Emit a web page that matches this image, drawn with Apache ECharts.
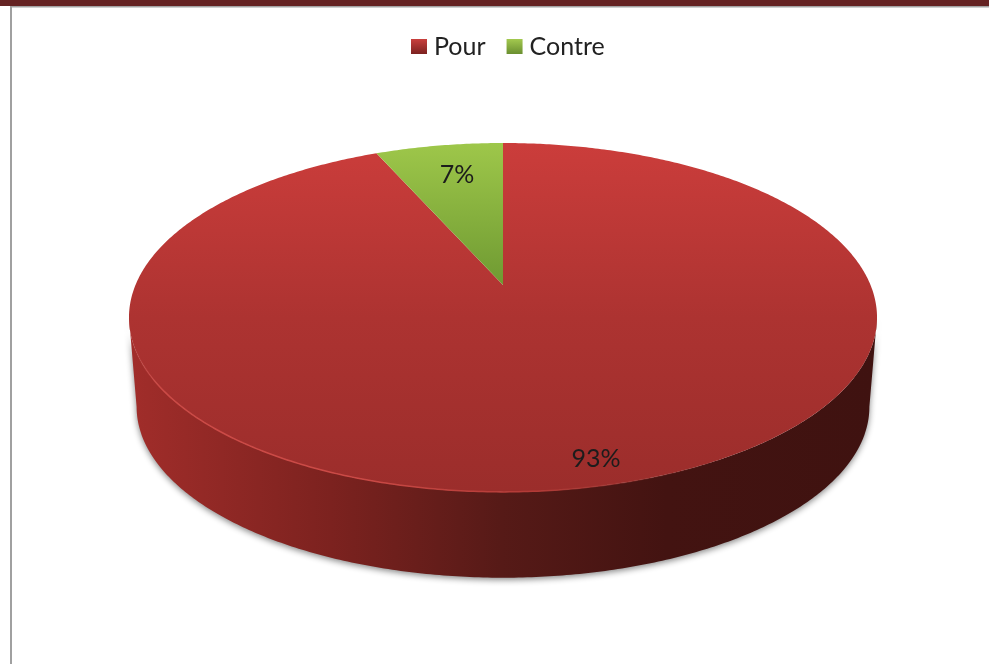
<!DOCTYPE html>
<html><head><meta charset="utf-8">
<style>html,body{margin:0;padding:0;background:#fff}#c{width:989px;height:664px}</style>
<script src="https://cdn.jsdelivr.net/npm/echarts@6/dist/echarts.min.js"></script>
</head><body><div id="c"></div>
<script>
const categories = ['Pour', 'Contre'];
const values = [93.4, 6.6];

const total = values.reduce((a, b) => a + b, 0);
const CX = 503, K = 0.186;
const TOP = { cy: 285, a: 367.5, b: 168.4 };
const BASE = { cy: 375, a: 360, b: 165 };
const labelRadius = [0.885, 0.77];
const labelFraction = [0.494, 0.55];
const topFill = [
  { stops: [['#cb3d3b', 0], ['#ad3331', 0.5], ['#9b2d2b', 1]], y0: 143, y1: 492 },
  { stops: [['#9ec74a', 0], ['#6f9a32', 1]], y0: 143, y1: 285 }
];
const legendStops = [['#c9403d', '#7c2220'], ['#a3c94f', '#6a8f30']];

function project(g, theta, r) {
  const u = r * Math.sin(theta), v = -r * Math.cos(theta), w = 1 - K * v;
  return [CX + g.a * u / w, g.cy + g.b * v / w];
}
function arc(g, t0, t1) {
  const n = Math.max(2, Math.ceil(Math.abs(t1 - t0) / 0.01)), pts = [];
  for (let i = 0; i <= n; i++) pts.push(project(g, t0 + (t1 - t0) * i / n, 1));
  return pts;
}
function grad(x, y, x2, y2, stops) {
  return { type: 'linear', global: true, x, y, x2, y2,
    colorStops: stops.map(s => ({ offset: s[1], color: s[0] })) };
}
function renderSlice(params) {
  const idx = params.seriesIndex;
  let before = 0;
  for (let i = 0; i < idx; i++) before += values[i];
  const t0 = before / total * 2 * Math.PI;
  const t1 = (before + values[idx]) / total * 2 * Math.PI;
  const children = [];
  // near side of the cylinder: from right tangent to left tangent through the front
  const nearStart = Math.max(t0, Math.PI - Math.acos(K)), nearEnd = Math.min(t1, Math.PI + Math.acos(K));
  if (nearEnd > nearStart) {
    const upper = arc(TOP, nearStart, nearEnd);
    const lower = arc(BASE, nearStart, nearEnd).reverse();
    children.push({
      type: 'polygon', silent: true,
      shape: { points: upper.concat(lower) },
      style: {
        fill: grad(130, 0, 875, 0, [['#a12d2a', 0], ['#7c221f', 0.27], ['#561a17', 0.5], ['#431311', 0.72], ['#3f1210', 1]]),
        shadowBlur: 6, shadowColor: 'rgba(70,70,70,0.65)', shadowOffsetX: 0, shadowOffsetY: 2
      }
    });
  }
  const s = topFill[idx];
  const pts = [[CX, TOP.cy]].concat(arc(TOP, t0, t1));
  children.push({
    type: 'polygon', silent: true,
    shape: { points: pts },
    style: { fill: grad(0, s.y0, 0, s.y1, s.stops) }
  });
  if (nearEnd > nearStart) {
    children.push({
      type: 'polyline', silent: true,
      shape: { points: arc(TOP, nearStart, nearEnd) },
      style: {
        fill: 'none', lineWidth: 1.5,
        stroke: grad(130, 0, 875, 0, [['rgba(205,70,66,0)', 0], ['#cb4a46', 0.04], ['#cb4a46', 0.3], ['#b23a36', 0.55], ['rgba(150,50,46,0)', 0.8], ['rgba(150,50,46,0)', 1]])
      }
    });
  }
  const p = project(TOP, t0 + (t1 - t0) * labelFraction[idx], labelRadius[idx]);
  children.push({
    type: 'text', silent: true,
    style: {
      text: Math.round(values[idx] / total * 100) + '%',
      x: p[0], y: p[1] + 2, align: 'center', verticalAlign: 'middle',
      font: '25px Lato, "Open Sans", sans-serif', fill: '#1c1c1c'
    }
  });
  return { type: 'group', children };
}

const chart = echarts.init(document.getElementById('c'), null, { renderer: 'canvas' });
chart.setOption({
  animation: false,
  backgroundColor: '#fff',
  legend: {
    top: 29, left: 406, itemWidth: 16, itemHeight: 15, itemGap: 21, icon: 'rect',
    selectedMode: false,
    textStyle: { fontFamily: 'Lato', fontSize: 25, color: '#222', padding: [0, 0, 0, 2] },
    data: categories.map((name, i) => ({
      name,
      itemStyle: { color: new echarts.graphic.LinearGradient(0, 0, 0, 1, [
        { offset: 0, color: legendStops[i][0] }, { offset: 1, color: legendStops[i][1] }]) }
    }))
  },
  graphic: [
    { type: 'rect', silent: true, shape: { x: 0, y: 0, width: 989, height: 6 }, style: { fill: '#652323' } },
    { type: 'rect', silent: true, shape: { x: 10, y: 6, width: 979, height: 1.5 }, style: { fill: '#a3a3a3' } },
    { type: 'rect', silent: true, shape: { x: 10, y: 6, width: 2, height: 658 }, style: { fill: '#a0a0a0' } }
  ],
  series: categories.map((name, i) => ({
    type: 'custom', name, coordinateSystem: 'none',
    renderItem: renderSlice,
    data: [[values[i]]],
    itemStyle: { color: topFill[i].stops[0][0] },
    silent: true
  }))
});
</script></body></html>
